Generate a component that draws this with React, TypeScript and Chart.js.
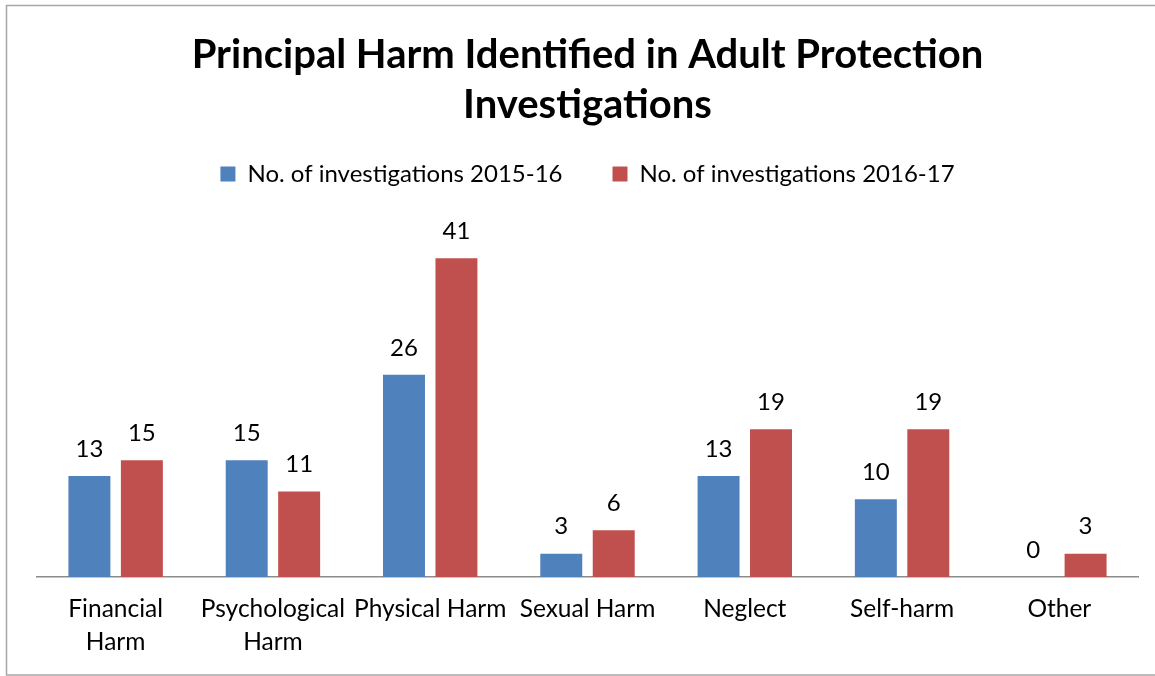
import React, { useEffect, useRef } from "react";
import { Chart, registerables } from "chart.js";

Chart.register(...registerables);

const categories: (string | string[])[] = [
  ["Financial", "Harm"],
  ["Psychological", "Harm"],
  "Physical Harm",
  "Sexual Harm",
  "Neglect",
  "Self-harm",
  "Other",
];
const seriesNames = ["No. of investigations 2015-16", "No. of investigations 2016-17"];
const values2015 = [13, 15, 26, 3, 13, 10, 0];
const values2016 = [15, 11, 41, 6, 19, 19, 3];
const titleLines = ["Principal Harm Identified in Adult Protection", "Investigations"];
const yMax = 49;

const FONT = "Lato, 'Noto Sans', sans-serif";

const borderPlugin = {
  id: "frameBorder",
  beforeDraw(chart: any) {
    const ctx = chart.ctx;
    ctx.save();
    ctx.fillStyle = "#ffffff";
    ctx.fillRect(0, 0, chart.width, chart.height);
    ctx.strokeStyle = "#a6a6a6";
    ctx.lineWidth = 1.5;
    ctx.strokeRect(6.5, 5.5, chart.width + 10, chart.height - 6.5);
    ctx.restore();
  },
};

const labelPlugin = {
  id: "valueLabels",
  afterDatasetsDraw(chart: any) {
    const ctx = chart.ctx;
    ctx.save();
    ctx.font = `24px ${FONT}`;
    ctx.fillStyle = "#000000";
    ctx.textAlign = "center";
    ctx.textBaseline = "middle";
    chart.data.datasets.forEach((ds: any, i: number) => {
      const meta = chart.getDatasetMeta(i);
      meta.data.forEach((el: any, j: number) => {
        ctx.fillText(String(ds.data[j]), el.x, el.y - 27);
      });
    });
    ctx.restore();
  },
};

export default function App() {
  const ref = useRef<HTMLCanvasElement>(null);
  useEffect(() => {
    if (!ref.current) return;
    const chart = new Chart(ref.current, {
      type: "bar",
      data: {
        labels: categories,
        datasets: [
          {
            label: seriesNames[0],
            data: values2015,
            backgroundColor: "#4F81BD",
          },
          {
            label: seriesNames[1],
            data: values2016,
            backgroundColor: "#C0504D",
          },
        ],
      },
      options: {
        animation: false,
        responsive: false,
        maintainAspectRatio: false,
        devicePixelRatio: 1,
        datasets: {
          bar: { categoryPercentage: 0.667, barPercentage: 0.8 },
        },
        layout: { padding: { left: 37, right: 17, top: 6, bottom: 1 } },
        plugins: {
          title: {
            display: true,
            text: titleLines,
            color: "#000000",
            font: { family: FONT, size: 40, weight: "bold", lineHeight: 1.25 },
            padding: { top: 24, bottom: -18 },
          },
          legend: {
            display: true,
            labels: {
              color: "#000000",
              font: { family: FONT, size: 24 },
              boxWidth: 15,
              boxHeight: 15,
              padding: 50,
            },
          },
          tooltip: { enabled: false },
        },
        scales: {
          x: {
            grid: { display: false, drawTicks: false },
            border: { display: true, color: "#8c8c8c", width: 1.5 },
            ticks: {
              color: "#000000",
              font: { family: FONT, size: 24.5, lineHeight: 1.347 },
              padding: 16,
              maxRotation: 0,
              autoSkip: false,
            },
          },
          y: {
            display: false,
            min: 0,
            max: yMax,
          },
        },
      },
      plugins: [borderPlugin, labelPlugin],
    });
    return () => chart.destroy();
  }, []);
  return (
    <div style={{ position: "absolute", left: 0, top: 0, width: 1155, height: 676 }}>
      <canvas ref={ref} width={1155} height={676} />
    </div>
  );
}
